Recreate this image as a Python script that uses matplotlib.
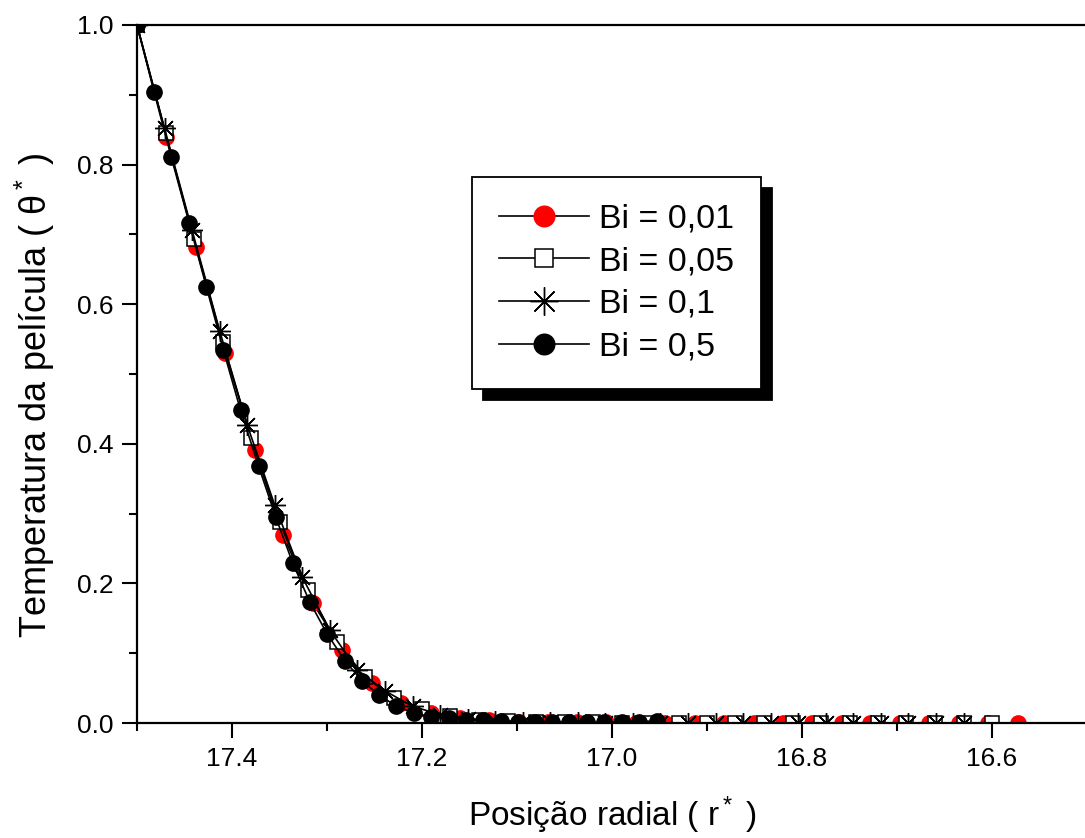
import matplotlib
matplotlib.use("Agg")
import matplotlib.pyplot as plt
from matplotlib.ticker import MultipleLocator

plt.rcParams['font.family'] = ['Liberation Sans', 'DejaVu Sans']
plt.rcParams['mathtext.fontset'] = 'custom'
plt.rcParams['mathtext.rm'] = 'Liberation Sans'
plt.rcParams['mathtext.it'] = 'Liberation Sans'

# ---- data ----
x_bi001 = [17.500, 17.469, 17.438, 17.407, 17.376, 17.346, 17.315, 17.284, 17.253, 17.222,
           17.191, 17.160, 17.129, 17.098, 17.067, 17.037, 17.006, 16.975, 16.944, 16.913,
           16.882, 16.851, 16.820, 16.789, 16.758, 16.728, 16.697, 16.666, 16.635, 16.604, 16.573]
y_bi001 = [1.000, 0.840, 0.682, 0.530, 0.391, 0.269, 0.172, 0.105, 0.057, 0.029,
           0.014, 0.007, 0.004, 0.002, 0.001, 0.001, 0.001, 0.000, 0.000, 0.000,
           0.000, 0.000, 0.000, 0.000, 0.000, 0.000, 0.000, 0.000, 0.000, 0.000, 0.000]

x_bi005 = [17.50, 17.47, 17.44, 17.41, 17.38, 17.35, 17.32, 17.29, 17.26, 17.23,
           17.20, 17.17, 17.14, 17.11, 17.08, 17.05, 17.02, 16.99, 16.96, 16.93,
           16.90, 16.87, 16.84, 16.81, 16.78, 16.75, 16.72, 16.69, 16.66, 16.63, 16.60]
y_bi005 = [1.000, 0.845, 0.693, 0.546, 0.408, 0.288, 0.191, 0.116, 0.066, 0.036,
           0.020, 0.010, 0.005, 0.003, 0.002, 0.001, 0.001, 0.000, 0.000, 0.000,
           0.000, 0.000, 0.000, 0.000, 0.000, 0.000, 0.000, 0.000, 0.000, 0.000, 0.000]

x_bi01 = [17.500, 17.471, 17.442, 17.413, 17.384, 17.355, 17.326, 17.297, 17.268, 17.239,
          17.210, 17.181, 17.152, 17.123, 17.094, 17.065, 17.036, 17.007, 16.978, 16.949,
          16.920, 16.891, 16.862, 16.833, 16.804, 16.775, 16.746, 16.717, 16.688, 16.659, 16.630]
y_bi01 = [1.000, 0.852, 0.706, 0.562, 0.427, 0.312, 0.209, 0.133, 0.076, 0.046,
          0.024, 0.012, 0.006, 0.003, 0.002, 0.001, 0.001, 0.000, 0.000, 0.000,
          0.000, 0.000, 0.000, 0.000, 0.000, 0.000, 0.000, 0.000, 0.000, 0.000, 0.000]

x_bi05 = [17.500, 17.482, 17.464, 17.445, 17.427, 17.409, 17.391, 17.372, 17.354, 17.336,
          17.318, 17.300, 17.281, 17.263, 17.245, 17.227, 17.208, 17.190, 17.172, 17.154,
          17.136, 17.117, 17.099, 17.081, 17.063, 17.045, 17.026, 17.008, 16.990, 16.972, 16.953]
y_bi05 = [1.000, 0.904, 0.811, 0.716, 0.625, 0.534, 0.448, 0.368, 0.295, 0.229,
          0.173, 0.128, 0.089, 0.060, 0.040, 0.024, 0.014, 0.009, 0.007, 0.005,
          0.004, 0.003, 0.002, 0.002, 0.001, 0.001, 0.001, 0.001, 0.001, 0.002, 0.003]

labels = ['Bi = 0,01', 'Bi = 0,05', 'Bi = 0,1', 'Bi = 0,5']
xticks = [17.4, 17.2, 17.0, 16.8, 16.6]
yticks = [0.0, 0.2, 0.4, 0.6, 0.8, 1.0]

# ---- figure ----
fig = plt.figure(figsize=(10.85, 8.38), dpi=100)
ax = fig.add_axes([137/1085, 1 - 723/838, 950/1085, 698/838])

lw = 1.2
ax.plot(x_bi001, y_bi001, color='black', lw=lw, marker='o', ms=11,
        mfc='red', mec='red', label=labels[0])
ax.plot(x_bi005, y_bi005, color='black', lw=lw, marker='s', ms=10,
        mfc='white', mec='black', mew=1.1, label=labels[1])
ax.plot(x_bi01, y_bi01, color='black', lw=lw, marker=(8, 2, 0), ms=15,
        mec='black', mew=1.0, label=labels[2])
ax.plot(x_bi05, y_bi05, color='black', lw=lw, marker='o', ms=11,
        mfc='black', mec='black', label=labels[3])

ax.set_xlim(17.5, 16.5)
ax.set_ylim(0.0, 1.0)
ax.set_xticks(xticks)
ax.set_xticklabels([f'{v:.1f}' for v in xticks])
ax.set_yticks(yticks)
ax.set_yticklabels([f'{v:.1f}' for v in yticks])
ax.xaxis.set_minor_locator(MultipleLocator(0.1))
ax.yaxis.set_minor_locator(MultipleLocator(0.1))

ax.tick_params(which='major', direction='out', length=11, width=1.5,
               labelsize=19, pad=6)
ax.tick_params(which='minor', direction='out', length=6, width=1.5)
ax.tick_params(top=False, right=False, which='both')

for s in ['left', 'bottom', 'top']:
    ax.spines[s].set_linewidth(1.6)
ax.spines['right'].set_visible(False)

ax.set_xlabel('Posição radial ( $\\mathregular{r^*}$ )', fontsize=24, labelpad=17)
ax.set_ylabel('Temperatura da película ( $\\mathregular{\\theta^*}$ )', fontsize=26)
ax.yaxis.set_label_coords(-0.084, 0.47)

leg = ax.legend(loc='upper left', bbox_to_anchor=(0.353, 0.782), borderaxespad=0,
                fontsize=24.5, frameon=True, fancybox=False, framealpha=1,
                edgecolor='black', handlelength=2.65, handletextpad=0.3,
                labelspacing=0.34, borderpad=0.78, markerscale=1.35,
                shadow={'ox': 8, 'oy': -8, 'color': 'black', 'alpha': 1})
leg.get_frame().set_linewidth(1.3)

fig.savefig('out.png', dpi=100)
